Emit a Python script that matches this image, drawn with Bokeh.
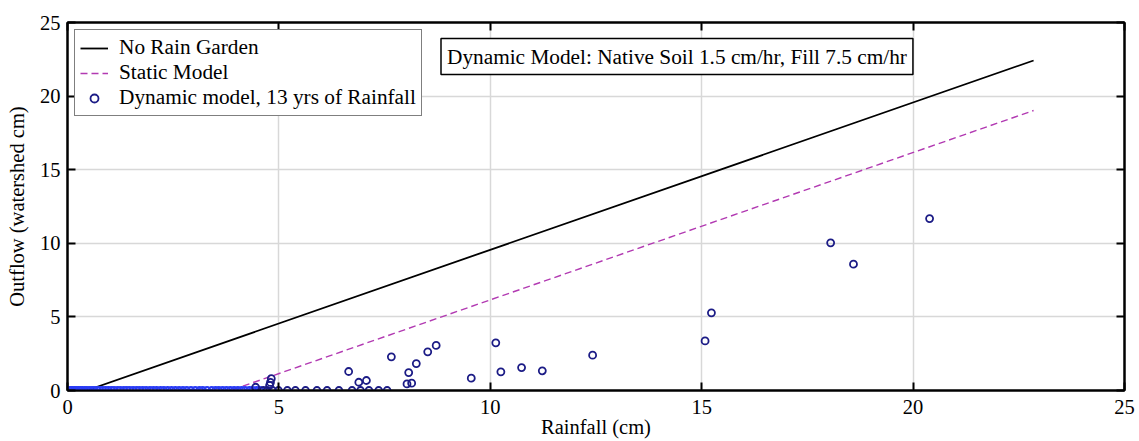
from bokeh.plotting import figure
from bokeh.models import (Range1d, FixedTicker, LinearAxis, Label, Legend, LegendItem,
                          CustomJSTickFormatter)
from bokeh.embed import file_html
from bokeh.resources import INLINE

# ---- data ----
no_garden_rain = [0.0, 0.45, 22.85]
no_garden_out = [0.0, 0.0, 22.42]

static_rain = [0.0, 3.85, 22.85]
static_out = [0.0, 0.0, 19.02]

# rainfall events with zero outflow (dense band along the x axis)
zero_rain_dense = [0.03, 0.08, 0.12, 0.17, 0.21, 0.26, 0.3, 0.35, 0.41, 0.46, 0.52,
                   0.58, 0.63, 0.7, 0.76, 0.83, 0.9, 0.97, 1.04, 1.1, 1.18, 1.25,
                   1.33, 1.4, 1.47, 1.55, 1.63, 1.7, 1.78, 1.86, 1.95, 2.03, 2.11,
                   2.2, 2.28, 2.37, 2.46, 2.55, 2.64, 2.73, 2.82, 2.92, 3.02, 3.12,
                   3.2, 3.3, 3.41, 3.5, 3.58, 3.67, 3.76, 3.85, 3.94, 4.03, 4.12,
                   4.2, 4.3, 4.38, 4.47, 4.55]
zero_out_dense = [0.0] * len(zero_rain_dense)

zero_rain_sparse = [4.63, 4.72, 4.85, 4.99, 5.2, 5.39, 5.63, 5.9, 6.14, 6.42, 6.73,
                    6.93, 7.13, 7.36, 7.56]
zero_out_sparse = [0.0] * len(zero_rain_sparse)

dyn_rain = [4.45, 4.78, 4.8, 4.82, 6.65, 6.89, 7.07, 7.66, 8.03, 8.14, 8.07, 8.25,
            8.52, 8.72, 9.55, 10.13, 10.25, 10.74, 11.23, 12.42, 15.08, 15.23,
            18.05, 18.59, 20.39]
dyn_out = [0.22, 0.35, 0.55, 0.8, 1.29, 0.56, 0.68, 2.29, 0.45, 0.5, 1.22, 1.83,
           2.63, 3.06, 0.84, 3.24, 1.27, 1.56, 1.34, 2.40, 3.37, 5.28,
           10.03, 8.58, 11.68]

ticks = [0, 5, 10, 15, 20, 25]
x_label = "Rainfall (cm)"
y_label = "Outflow (watershed cm)"
legend_labels = ["No Rain Garden", "Static Model", "Dynamic model, 13 yrs of Rainfall"]
note_text = "Dynamic Model: Native Soil 1.5 cm/hr, Fill 7.5 cm/hr"

FONT = "Liberation Serif"
NAVY = "#1c1c86"
BRIGHT = "#2a3cf5"
MAGENTA = "#b23ab2"

p = figure(width=1139, height=441, output_backend="svg", toolbar_location=None,
           x_range=Range1d(0, 25), y_range=Range1d(0, 25),
           min_border_left=67, min_border_right=15, min_border_top=22, min_border_bottom=51)
p.background_fill_color = "white"
p.border_fill_color = "white"
p.outline_line_color = "black"
p.outline_line_width = 2

tk = FixedTicker(ticks=ticks, minor_ticks=[])
for ax in [p.xaxis[0], p.yaxis[0]]:
    ax.ticker = tk
    ax.axis_line_width = 2
    ax.major_tick_in = 8
    ax.major_tick_out = 0
    ax.major_tick_line_width = 2
    ax.minor_tick_line_color = None
    ax.major_label_text_font = FONT
    ax.major_label_text_font_size = "20.5px"
    ax.major_label_text_color = "black"
    ax.axis_label_text_font = FONT
    ax.axis_label_text_font_size = "20.5px"
    ax.axis_label_text_font_style = "normal"
    ax.axis_label_text_color = "black"

p.xaxis.axis_label = x_label
p.yaxis.axis_label = y_label
p.xaxis.major_label_standoff = 9
p.xaxis.axis_label_standoff = -1
p.yaxis.major_label_standoff = 7
p.yaxis.axis_label_standoff = 9

for side in ["above", "right"]:
    ax = LinearAxis(ticker=FixedTicker(ticks=ticks, minor_ticks=[]),
                    formatter=CustomJSTickFormatter(code="return ''"))
    ax.axis_line_width = 2
    ax.major_tick_in = 8
    ax.major_tick_out = 0
    ax.major_tick_line_width = 2
    ax.minor_tick_line_color = None
    ax.major_label_text_font_size = "1px"
    ax.major_label_standoff = 0
    p.add_layout(ax, side)

for g in [p.xgrid[0], p.ygrid[0]]:
    g.ticker = tk
    g.grid_line_color = "#d8d8d8"
    g.grid_line_width = 1.5

r_line = p.line(no_garden_rain, no_garden_out, line_color="black", line_width=1.8)
r_static = p.line(static_rain, static_out, line_color=MAGENTA, line_width=1.4, line_dash="7 4")
p.scatter(zero_rain_dense, zero_out_dense, marker="circle", size=7, fill_color=None,
          line_color=BRIGHT, line_width=1.8)
p.scatter(zero_rain_sparse, zero_out_sparse, marker="circle", size=7, fill_color=None,
          line_color=NAVY, line_width=1.8)
r_dyn = p.scatter(dyn_rain, dyn_out, marker="circle", size=7, fill_color=None,
                  line_color=NAVY, line_width=1.8)

legend = Legend(items=[LegendItem(label=legend_labels[0], renderers=[r_line]),
                       LegendItem(label=legend_labels[1], renderers=[r_static]),
                       LegendItem(label=legend_labels[2], renderers=[r_dyn])],
                location="top_left")
legend.margin = 7
legend.padding = 5
legend.spacing = 0
legend.glyph_width = 28
legend.glyph_height = 20
legend.label_height = 20
legend.label_standoff = 11
legend.label_text_font = FONT
legend.label_text_font_size = "21.3px"
legend.label_text_color = "black"
legend.border_line_color = "black"
legend.border_line_width = 1.5
legend.background_fill_color = "white"
legend.background_fill_alpha = 1.0
p.add_layout(legend, "center")

note = Label(x=14.415, y=22.69, text=note_text, text_align="center", text_baseline="middle",
             text_font=FONT, text_font_size="21.3px", text_color="black",
             border_line_color="black", border_line_width=1.5,
             background_fill_color="white", padding=6)
p.add_layout(note)

open("out.html", "w").write(file_html(p, INLINE))
